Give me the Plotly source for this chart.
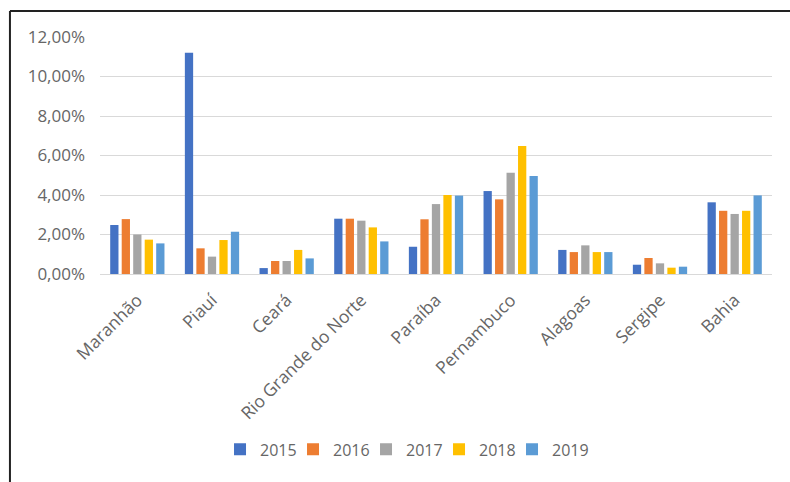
import plotly.graph_objects as go

categories = ["Maranhão", "Piauí", "Ceará", "Rio Grande do Norte", "Paraíba",
              "Pernambuco", "Alagoas", "Sergipe", "Bahia"]
years = ["2015", "2016", "2017", "2018", "2019"]
v2015 = [2.48, 11.20, 0.30, 2.80, 1.38, 4.20, 1.22, 0.47, 3.63]
v2016 = [2.78, 1.30, 0.66, 2.80, 2.77, 3.78, 1.11, 0.81, 3.20]
v2017 = [2.00, 0.88, 0.66, 2.70, 3.54, 5.13, 1.45, 0.54, 3.04]
v2018 = [1.74, 1.72, 1.22, 2.36, 4.00, 6.48, 1.11, 0.32, 3.20]
v2019 = [1.55, 2.14, 0.79, 1.65, 3.97, 4.96, 1.11, 0.37, 3.98]
series = [v2015, v2016, v2017, v2018, v2019]
colors = ["#4472C4", "#ED7D31", "#A5A5A5", "#FFC000", "#5B9BD5"]
tick_vals = [0, 0.02, 0.04, 0.06, 0.08, 0.10, 0.12]

fig = go.Figure()
for y, vals, c in zip(years, series, colors):
    fig.add_trace(go.Bar(name=y, x=categories, y=[v / 100 for v in vals],
                         marker=dict(color=c, line=dict(width=0))))
# invisible spacer entry so the last legend label is not clipped
fig.add_trace(go.Scatter(x=[None], y=[None], mode="markers", name=" ",
                         marker=dict(color="rgba(0,0,0,0)"), hoverinfo="skip"))

font_color = "#666666"
fig.update_layout(
    width=790, height=482,
    margin=dict(l=100, r=18, t=37, b=208),
    paper_bgcolor="white", plot_bgcolor="white",
    separators=",.",
    barmode="group", bargap=0.23, bargroupgap=0.28,
    font=dict(family="Open Sans, sans-serif", size=16, color=font_color),
    showlegend=True,
    legend=dict(orientation="h", x=0.1786, xanchor="left", y=-0.74, yanchor="middle",
                font=dict(size=16, color=font_color), itemwidth=30,
                entrywidth=28, entrywidthmode="pixels",
                traceorder="normal"),
    xaxis=dict(tickangle=-45, showgrid=False, showline=True, linecolor="#d9d9d9",
               ticks="", ticklabelstandoff=8,
               tickfont=dict(size=17.5, color=font_color)),
    yaxis=dict(range=[0, 0.12], tickvals=tick_vals, tickformat=".2%",
               showgrid=True, gridcolor="#d9d9d9", gridwidth=1,
               zeroline=False, showline=False, ticks="", ticklabelstandoff=14,
               tickfont=dict(size=17, color=font_color)),
    shapes=[
        dict(type="line", xref="paper", yref="paper", x0=-0.134, x1=1.1, y0=1.11, y1=1.11,
             line=dict(color="#222222", width=2)),
        dict(type="line", xref="paper", yref="paper", x0=-0.134, x1=-0.134, y0=1.11, y1=-1.0,
             line=dict(color="#222222", width=2)),
    ],
)

fig.write_html("out.html")
